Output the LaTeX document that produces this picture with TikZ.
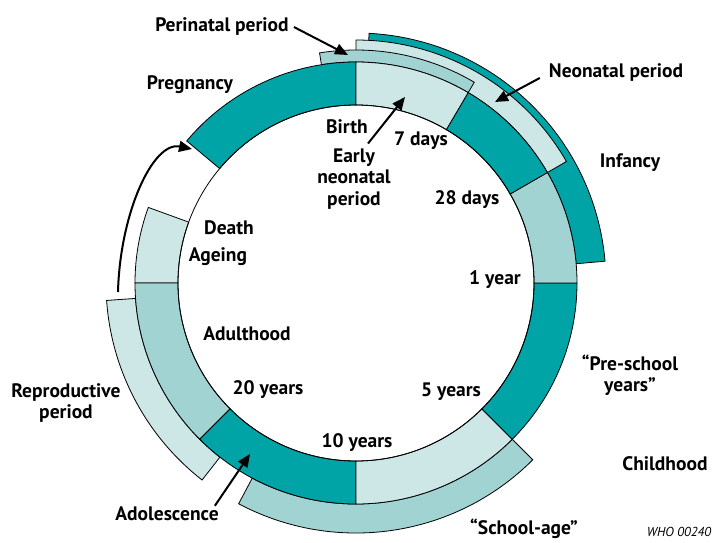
\documentclass[tikz,border=0pt]{standalone}
\usepackage{fontspec}
\setmainfont{PT Sans}
\usepackage{tikz}
\usetikzlibrary{arrows.meta}

\definecolor{whoteal}{HTML}{00A4A6}
\definecolor{whomid}{HTML}{A1D3D3}
\definecolor{whopale}{HTML}{CDE6E6}

% annular piece: colour, from angle, to angle, inner radius, outer radius
\newcommand{\ringseg}[5]{%
  \draw[seg, fill=#1] (#2:#4) arc[start angle=#2, end angle=#3, radius=#4]
    -- (#3:#5) arc[start angle=#3, end angle=#2, radius=#5] -- cycle;}

\begin{document}
\begin{tikzpicture}[x=1pt, y=1pt,
  lbl/.style={font=\fontsize{19.5}{21.5}\selectfont\bfseries, inner sep=1pt, yshift=-2pt},
  arr/.style={-{Triangle[length=13pt, width=11pt]}, line width=2pt},
  seg/.style={draw, line width=0.8pt}]
\useasboundingbox (-356,-259) rectangle (361,283);

% outer bands
\ringseg{whoteal}{5}{87}{221}{250}
\ringseg{whopale}{30}{90}{221}{243}
\ringseg{whomid}{59.5}{99}{221}{233}
\ringseg{whomid}{242}{315}{221}{250}
\ringseg{whopale}{184}{232}{221}{250}

% life-course ring
\ringseg{whoteal}{90}{140}{178}{221}
\ringseg{whopale}{160}{180}{178}{221}
\ringseg{whomid}{180}{225}{178}{221}
\ringseg{whoteal}{225}{270}{178}{221}
\ringseg{whopale}{270}{315}{178}{221}
\ringseg{whoteal}{315}{360}{178}{221}
\ringseg{whomid}{0}{30}{178}{221}
\ringseg{whoteal}{30}{59.5}{178}{221}
\ringseg{whopale}{59.5}{90}{178}{221}
\draw[seg] (0,0) circle[radius=178];

% labels
\node[lbl] (peri) at (-134,258) {Perinatal period};
\node[lbl] (preg) at (-166,200) {Pregnancy};
\node[lbl] (neo) at (260,212) {Neonatal period};
\node[lbl] (inf) at (274,122) {Infancy};
\node[lbl] (birth) at (-9,158) {Birth};
\node[lbl] (d7) at (65,144) {7 days};
\node[lbl, align=center] (early) at (-2,106) {Early\\neonatal\\period};
\node[lbl] (d28) at (111,85) {28 days};
\node[lbl] (y1) at (139,5) {1 year};
\node[lbl, align=center] (pre) at (274,-90) {“Pre-school\\years”};
\node[lbl] (y5) at (95,-107) {5 years};
\node[lbl] (child) at (309,-179) {Childhood};
\node[lbl] (school) at (168,-244) {“School-age”};
\node[lbl] (y10) at (1,-158) {10 years};
\node[lbl] (y20) at (-88,-105) {20 years};
\node[lbl] (adult) at (-109,-49) {Adulthood};
\node[lbl, align=center] (repro) at (-290,-118) {Reproductive\\period};
\node[lbl] (death) at (-127,57) {Death};
\node[lbl] (age) at (-138,28) {Ageing};
\node[lbl] (adol) at (-189,-229) {Adolescence};
\node[font=\fontsize{13}{15}\selectfont\itshape] (who) at (323,-249) {WHO 00240};

% pointers
\coordinate (pt) at (-8,228);
\coordinate (et) at (49,186);
\coordinate (nt) at (139,181);
\coordinate (at) at (-106,-171);
\coordinate (cs) at (-238,-9);
\coordinate (ce) at (-164,134);
\draw[arr] ([xshift=4pt]peri.east) -- (pt);
\draw[arr] ([shift={(14,4)}]early.north) -- (et);
\draw[arr] ([shift={(-8,-5)}]neo.west) -- (nt);
\draw[arr] ([shift={(-5,0)}]adol.north east) -- (at);
\draw[arr] (cs) .. controls (-236,70) and (-203,142) .. (ce);
\end{tikzpicture}
\end{document}
